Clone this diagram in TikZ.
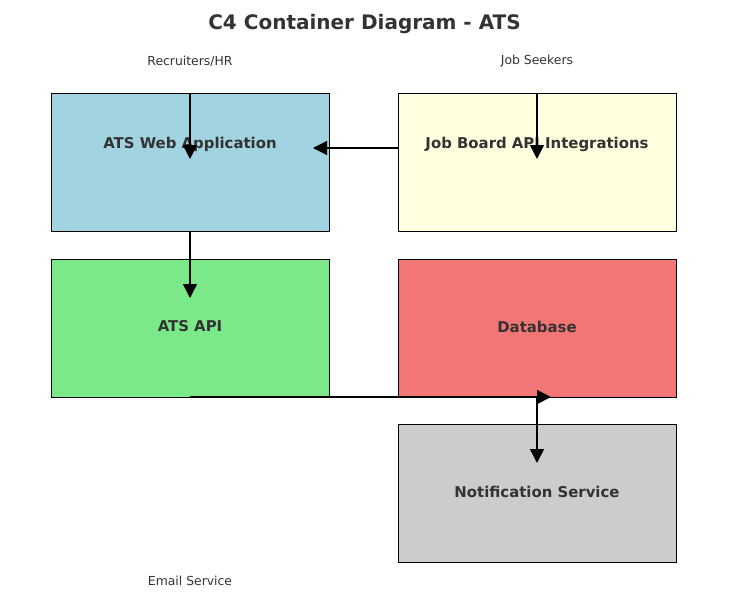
\documentclass[tikz,border=0pt]{standalone}
\usepackage{fontspec}
\setmainfont{DejaVu Sans}
\usetikzlibrary{arrows.meta,calc}
\definecolor{webblue}{HTML}{A1D3E1}
\definecolor{jobyellow}{HTML}{FFFFE0}
\definecolor{apigreen}{HTML}{7BE98A}
\definecolor{dbred}{HTML}{F37676}
\definecolor{notgray}{HTML}{CCCCCC}
\definecolor{txt}{HTML}{333333}
\begin{document}
\begin{tikzpicture}[x=1pt,y=-1pt,
  box/.style={draw=black, line width=0.9pt, minimum width=278pt, minimum height=138pt, anchor=north west, inner sep=0pt, outer sep=0pt},
  boxtext/.style={text=txt, font=\bfseries\fontsize{14.9}{17}\selectfont, inner sep=0pt},
  actor/.style={text=txt, font=\fontsize{12.4}{14}\selectfont, inner sep=0pt},
  arr/.style={line width=1.5pt, -{Triangle[length=14pt,width=14pt]}}]
\useasboundingbox (0,0) rectangle (729,597);
\node[text=txt, font=\bfseries\fontsize{20}{23}\selectfont, inner sep=0pt] (title) at (364.5,24) {C4 Container Diagram - ATS};
% boxes
\node[box, fill=webblue] (web) at (51,93) {};
\node[box, fill=jobyellow] (job) at (398,93) {};
\node[box, fill=apigreen] (api) at (51,259) {};
\node[box, fill=dbred] (db) at (398,259) {};
\node[box, fill=notgray] (notif) at (398,424) {};
% box labels
\node[boxtext] (webt) at (190,144) {ATS Web Application};
\node[boxtext] (jobt) at (537,144) {Job Board API Integrations};
\node[boxtext] (apit) at (190,326.5) {ATS API};
\node[boxtext] (dbt) at (537,326.5) {Database};
\node[boxtext] (notift) at (537,492) {Notification Service};
% actors
\node[actor] (rec) at (190,61.5) {Recruiters/HR};
\node[actor] (seek) at (537,61.5) {Job Seekers};
\node[actor] (email) at (190,580.5) {Email Service};
% connector end points
\coordinate (recend) at (190,159);
\coordinate (seekend) at (537,159);
\coordinate (jobstart) at (398,148);
\coordinate (webend) at (313,148);
\coordinate (apiend) at (190,298);
\coordinate (dbend) at (551,397);
\coordinate (notifend) at (537,463);
% connectors
\draw[arr] (web.north) -- (recend);
\draw[arr] (job.north) -- (seekend);
\draw[arr] (jobstart) -- (webend);
\draw[arr] (web.south) -- (apiend);
\draw[arr] (api.south) -- (dbend);
\draw[arr] (db.south) -- (notifend);
\end{tikzpicture}
\end{document}
